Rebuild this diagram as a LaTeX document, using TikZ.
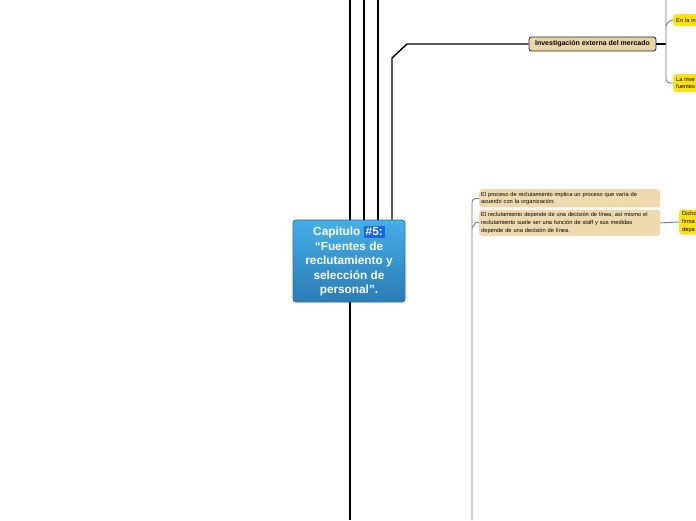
\documentclass[tikz,border=0pt]{standalone}
\usepackage{fontspec}
\setmainfont{Liberation Sans}
\usepackage{tikz}
\usetikzlibrary{positioning,calc}
\usepackage{xcolor}
\definecolor{mapBlueTop}{RGB}{70,174,232}
\definecolor{mapBlueBot}{RGB}{44,124,178}
\definecolor{mapBlueLine}{RGB}{30,110,170}
\definecolor{mapHash}{RGB}{26,98,232}
\definecolor{mapTan}{RGB}{233,213,166}
\definecolor{mapBeige}{RGB}{238,218,172}
\definecolor{mapYellow}{RGB}{255,226,20}
\definecolor{mapTwig}{RGB}{120,120,120}

\begin{document}
\begin{tikzpicture}[
  x=1pt, y=-1pt,
  centre/.style={draw=mapBlueLine, line width=0.8pt, rounded corners=3pt,
                 top color=mapBlueTop, bottom color=mapBlueBot, text=white,
                 align=center, minimum width=112pt, minimum height=82pt, inner sep=2pt,
                 font=\fontsize{11.8}{14.5}\selectfont\bfseries},
  topic/.style={draw=black!85, line width=0.8pt, rounded corners=2.5pt, fill=mapTan,
                minimum width=127pt, minimum height=14pt, inner sep=2pt,
                font=\fontsize{7}{8}\selectfont\bfseries},
  note/.style={fill=mapBeige, rounded corners=3pt, align=left, text width=177pt,
               inner xsep=2pt, inner ysep=2.6pt, font=\fontsize{5.7}{7.7}\selectfont},
  leaf/.style={fill=mapYellow, rounded corners=3pt, align=left, text width=40pt,
               inner xsep=3pt, inner ysep=2pt, font=\fontsize{5.7}{7.7}\selectfont},
  trunk/.style={line width=1.4pt, black},
  twig/.style={line width=0.9pt, mapTwig, rounded corners=4pt}
]
\useasboundingbox (0,0) rectangle (696,520);

% Nodo central
\node[centre] (cap) at (349,261) {Capitulo {\fboxsep=2pt\colorbox{mapHash}{\#5:}}\\
  ``Fuentes de\\reclutamiento y\\selección de\\personal''.};

% Rama superior derecha
\node[topic] (ext) at (592.5,44) {Investigación externa del mercado};
\node[leaf, anchor=west, minimum height=12pt] (lf1) at (673,20) {En la in};
\node[leaf, anchor=west, minimum height=18pt] (lf2) at (673,83) {La inve\\fuentes};

% Notas
\node[note, anchor=north west] (n1) at (479,189) {El proceso de reclutamiento implica un proceso que varía de\\acuerdo con la organización.};
\node[note, below=2pt of n1.south west, anchor=north west] (n2) {El reclutamiento depende de una decisión de línea, así mismo el\\reclutamiento suele ser una función de staff y sus medidas\\depende de una decisión de línea.};
\node[leaf, anchor=west, minimum height=25pt] (lf3) at (679,222) {Dicho\\firma\\depa};

% Puntos libres
\coordinate (t1) at (350,0);
\coordinate (t2) at (364,0);
\coordinate (t3) at (378,0);
\coordinate (tk) at (666,0);
\coordinate (b1) at (350,520);
\coordinate (b2) at (472,520);

% Conexiones
\draw[trunk] (cap.north -| t1) -- (t1);
\draw[trunk] (cap.north -| t2) -- (t2);
\draw[trunk] (cap.north -| t3) -- (t3);
\draw[trunk] ($(cap.north)+(43,0)$) -- (392,58) -- (407,44) -- (ext.west);
\draw[trunk] (cap.south -| b1) -- (b1);

\draw[trunk, line width=1.1pt] (ext.east) -- (666,44);
\draw[twig] (tk) |- (lf2.west);
\draw[twig] (666,26) -- (669,20) -- (lf1.west);

\draw[twig] (b2) |- (n1.west);
\draw[twig, rounded corners=0pt] (472,228) -- (476,222) -- (n2.west);
\draw[twig, rounded corners=0pt] (n2.east) -- (lf3.west);

\end{tikzpicture}
\end{document}
